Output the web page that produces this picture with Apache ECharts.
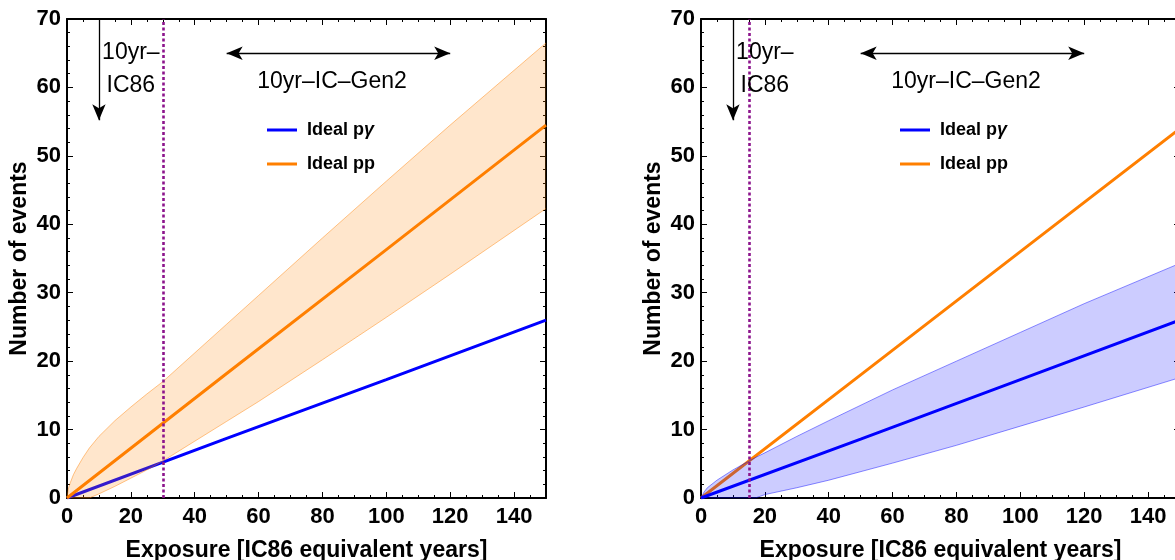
<!DOCTYPE html>
<html><head><meta charset="utf-8">
<script src="https://cdn.jsdelivr.net/npm/echarts@6/dist/echarts.min.js"></script>
<style>html,body{margin:0;padding:0;background:#fff}#c{width:1175px;height:560px}</style>
</head><body><div id="c"></div>
<script>
// ---- data ----
const xTicks = [0, 20, 40, 60, 80, 100, 120, 140];
const yTicks = [0, 10, 20, 30, 40, 50, 60, 70];
const seriesNames = ['Ideal pγ', 'Ideal pp'];

const lineX    = [0, 50, 100, 150];
const leftPP   = [0, 18.2, 36.3, 54.5];
const leftPG   = [0, 8.7, 17.3, 26.0];
const rightPP  = [0, 18.0, 36.0, 54.0];
const rightPG  = [0, 8.6, 17.3, 26.0];

// left panel: band around Ideal pp
const bandLX     = [0, 0.5, 1, 2, 3, 5, 7, 10, 15, 20, 25, 30, 40, 50, 60, 80, 100, 120, 150];
const bandLUpper = [0, 1.5, 2.2, 3.4, 4.3, 5.9, 7.3, 9.0, 11.3, 13.3, 15.2, 17.0, 21.2, 25.4, 29.6, 38.0, 46.3, 54.5, 66.5];
const bandLLower = [0, 0, 0, 0, 0, 0, 0, 0.6, 1.7, 2.9, 4.1, 5.4, 8.3, 11.2, 14.1, 20.2, 26.4, 32.7, 42.3];

// right panel: band around Ideal pγ
const bandRX     = [0, 1, 2, 5, 10, 15, 17, 20, 30, 40, 60, 80, 100, 120, 150];
const bandRUpper = [0, 0.9, 1.5, 2.6, 4.1, 5.4, 5.9, 6.6, 9.0, 11.3, 15.8, 20.0, 24.2, 28.4, 34.3];
const bandRLower = [0, 0, 0, 0, 0, 0, 0, 0.5, 1.5, 2.6, 5.1, 7.7, 10.5, 13.3, 17.6];

const ic86Exposure = [30, 15];       // dotted line position per panel
const ic86Arrow = { x: 10, yTop: 70, yEnd: 55.2 };
const gen2Arrow = { x0: 50, x1: 120, y: 65 };
const ic86Text  = { x: 20, y: 62.7, text: '10yr–\nIC86' };
const gen2Text  = { x: 83, y: 60.9, text: '10yr–IC–Gen2' };

// ---- styling ----
const FONT = "'Liberation Sans', Arial, Helvetica, sans-serif";
const BLUE = '#0000ff', ORANGE = '#ff7f00', PURPLE = '#8c148c';

const pairs = (xs, ys) => xs.map((x, i) => [x, ys[i]]);

const grids = [
  { left: 67, top: 19, width: 479, height: 479, outerBoundsMode: 'none', containLabel: false },
  { left: 701, top: 19, width: 479, height: 479, outerBoundsMode: 'none', containLabel: false }
];

function xAxes(g) {
  const base = {
    gridIndex: g, type: 'value', min: 0, max: 150, interval: 20,
    axisLine: { show: true, onZero: false, lineStyle: { color: '#000', width: 2 } },
    axisTick: { show: true, inside: true, length: 6, lineStyle: { color: '#000', width: 1 } },
    minorTick: { show: true, splitNumber: 4, length: 3, lineStyle: { color: '#000', width: 1 } },
    splitLine: { show: false }
  };
  return [
    Object.assign({}, base, {
      position: 'bottom',
      name: 'Exposure [IC86 equivalent years]', nameLocation: 'middle', nameGap: 41,
      nameTextStyle: { fontFamily: FONT, fontWeight: 'bold', fontSize: 23, color: '#000' },
      axisLabel: { show: true, showMaxLabel: false, margin: 8, fontFamily: FONT, fontWeight: 'bold', fontSize: 22, color: '#000',
        formatter: v => xTicks.includes(v) ? String(v) : '' }
    }),
    Object.assign({}, base, { position: 'top', axisLabel: { show: false } })
  ];
}
function yAxes(g) {
  const base = {
    gridIndex: g, type: 'value', min: 0, max: 70, interval: 10,
    axisLine: { show: true, onZero: false, lineStyle: { color: '#000', width: 2 } },
    axisTick: { show: true, inside: true, length: 6, lineStyle: { color: '#000', width: 1 } },
    minorTick: { show: true, splitNumber: 5, length: 3, lineStyle: { color: '#000', width: 1 } },
    splitLine: { show: false }
  };
  return [
    Object.assign({}, base, {
      position: 'left',
      name: 'Number of events', nameLocation: 'middle', nameGap: 36,
      nameTextStyle: { fontFamily: FONT, fontWeight: 'bold', fontSize: 23, color: '#000' },
      axisLabel: { show: true, margin: 6, fontFamily: FONT, fontWeight: 'bold', fontSize: 22, color: '#000',
        formatter: v => yTicks.includes(v) ? String(v) : '' }
    }),
    Object.assign({}, base, { position: 'right', axisLabel: { show: false } })
  ];
}

// band = filled polygon between upper and lower (through the axes' scales) + thin edge lines
function bandSeries(g, xs, upper, lower, fill, edge, z) {
  const axes = { xAxisIndex: 2 * g, yAxisIndex: 2 * g };
  return [
    Object.assign({}, axes, {
      type: 'custom', name: 'band-fill-' + g, silent: true, z: z, clip: true,
      data: [[xs[0], lower[0]]],
      renderItem: function (params, api) {
        const top = xs.map((x, i) => api.coord([x, upper[i]]));
        const bot = xs.map((x, i) => api.coord([x, lower[i]])).reverse();
        return { type: 'polygon', shape: { points: top.concat(bot) }, style: { fill: fill, stroke: null } };
      }
    }),
    Object.assign({}, axes, { type: 'line', name: 'band-up-edge-' + g, data: pairs(xs, upper), symbol: 'none', silent: true, z: z,
      lineStyle: { width: 1, color: edge } }),
    Object.assign({}, axes, { type: 'line', name: 'band-lo-edge-' + g, data: pairs(xs, lower), symbol: 'none', silent: true, z: z,
      lineStyle: { width: 1, color: edge } })
  ];
}

function mainLine(g, name, ys, color, z) {
  return { type: 'line', name: name, xAxisIndex: 2 * g, yAxisIndex: 2 * g, data: pairs(lineX, ys), z: z,
    symbol: 'none', color: color, lineStyle: { width: 3, color: color }, itemStyle: { color: color } };
}

function annotations(g) {
  const txtStyle = { show: true, position: 'inside', fontFamily: FONT, fontSize: 23, color: '#000', opacity: 1,
    lineHeight: 33, align: 'center', verticalAlign: 'middle' };
  return {
    type: 'scatter', name: 'annot-' + g, xAxisIndex: 2 * g, yAxisIndex: 2 * g, symbolSize: 0, silent: true, z: 6,
    itemStyle: { opacity: 1, color: 'rgba(0,0,0,0)' },
    data: [
      { value: [ic86Text.x, ic86Text.y], label: Object.assign({}, txtStyle, { formatter: ic86Text.text }) },
      { value: [gen2Text.x, gen2Text.y], label: Object.assign({}, txtStyle, { formatter: gen2Text.text }) }
    ],
    markLine: {
      silent: true, animation: false, symbol: ['none', 'none'], z: 6,
      label: { show: false },
      data: [
        { xAxis: ic86Exposure[g], lineStyle: { color: PURPLE, width: 2.6, type: [3, 2.5], opacity: 1 } },
        [ { coord: [ic86Arrow.x, ic86Arrow.yTop], symbol: 'none' },
          { coord: [ic86Arrow.x, ic86Arrow.yEnd], symbol: 'arrow', symbolSize: [10, 16], lineStyle: { color: '#000', width: 1.3, type: 'solid', opacity: 1 } } ],
        [ { coord: [gen2Arrow.x0, gen2Arrow.y], symbol: 'arrow', symbolSize: [10, 16] },
          { coord: [gen2Arrow.x1, gen2Arrow.y], symbol: 'arrow', symbolSize: [10, 16], lineStyle: { color: '#000', width: 1.3, type: 'solid', opacity: 1 } } ]
      ]
    }
  };
}

function legendFor(left) {
  return {
    data: seriesNames, left: left, top: 116, orient: 'vertical', icon: 'rect',
    itemWidth: 30, itemHeight: 3, itemGap: 16, selectedMode: false,
    formatter: n => n === 'Ideal pγ' ? '{a|Ideal p}{g|γ}' : '{a|' + n + '}',
    textStyle: { padding: [0, 0, 0, 5], rich: {
      a: { fontFamily: FONT, fontWeight: 'bold', fontSize: 18, color: '#000' },
      g: { fontFamily: FONT, fontWeight: 'bold', fontStyle: 'italic', fontSize: 18, color: '#000' } } }
  };
}

const option = {
  animation: false,
  backgroundColor: '#fff',
  grid: grids,
  xAxis: xAxes(0).concat(xAxes(1)),
  yAxis: yAxes(0).concat(yAxes(1)),
  legend: [legendFor(262), legendFor(895)],
  series: [
    mainLine(0, 'Ideal pγ', leftPG, BLUE, 2),
    ...bandSeries(0, bandLX, bandLUpper, bandLLower, 'rgba(255,128,0,0.2)', 'rgba(255,128,0,0.45)', 3),
    mainLine(0, 'Ideal pp', leftPP, ORANGE, 4),
    annotations(0),
    mainLine(1, 'Ideal pp', rightPP, ORANGE, 2),
    ...bandSeries(1, bandRX, bandRUpper, bandRLower, 'rgba(0,0,255,0.2)', 'rgba(0,0,255,0.45)', 3),
    mainLine(1, 'Ideal pγ', rightPG, BLUE, 4),
    annotations(1)
  ]
};
const chart = echarts.init(document.getElementById('c'), null, { renderer: 'canvas' });
chart.setOption(option);
</script></body></html>
